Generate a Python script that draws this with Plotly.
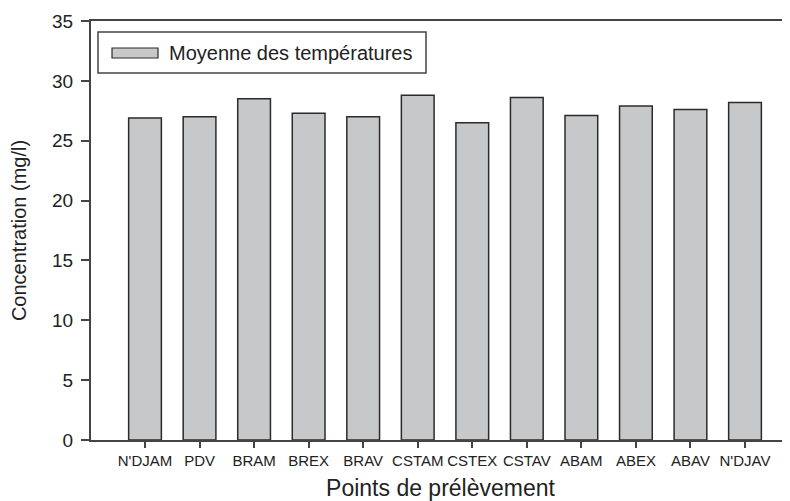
import plotly.graph_objects as go

categories = ["N'DJAM", "PDV", "BRAM", "BREX", "BRAV", "CSTAM", "CSTEX",
              "CSTAV", "ABAM", "ABEX", "ABAV", "N'DJAV"]
temperatures = [26.9, 27.0, 28.5, 27.3, 27.0, 28.8, 26.5, 28.6, 27.1, 27.9, 27.6, 28.2]
y_ticks = [0, 5, 10, 15, 20, 25, 30, 35]
legend_label = "Moyenne des températures"

FONT = "Liberation Sans, Arial, Helvetica, sans-serif"
AXIS_COLOR = "#444444"
BAR_FILL = "#c7c8ca"
BAR_LINE = "#2b2b2b"

# page body has an 8px default margin; figure is sized so it ends at the window edge
OFF = 8
W, H = 790 - OFF, 501 - OFF
L, R, T, B = 91 - OFF, 0, 21 - OFF, 61
pw, ph = W - L - R, H - T - B


def px(x):
    return (x - OFF - L) / pw


def py(y):
    return (H - B - (y - OFF)) / ph


fig = go.Figure()
fig.add_trace(go.Bar(
    x=categories, y=temperatures, name=legend_label,
    marker=dict(color=BAR_FILL, line=dict(color=BAR_LINE, width=1.5)),
    width=0.6, showlegend=False,
))

# manual legend (box, swatch, text)
fig.add_shape(type="rect", xref="paper", yref="paper",
              x0=px(98), x1=px(426), y0=py(73), y1=py(32),
              line=dict(color=AXIS_COLOR, width=1.5), fillcolor="white", layer="above")
fig.add_shape(type="rect", xref="paper", yref="paper",
              x0=px(112), x1=px(158), y0=py(58), y1=py(48),
              line=dict(color=BAR_LINE, width=1.2), fillcolor=BAR_FILL, layer="above")
fig.add_annotation(xref="paper", yref="paper", x=px(167), y=py(53),
                   text=legend_label, showarrow=False, xanchor="left", yanchor="middle",
                   font=dict(family=FONT, size=20, color="#222222"))

fig.update_layout(
    width=W, height=H, autosize=False,
    margin=dict(l=L, r=R, t=T, b=B, pad=0),
    plot_bgcolor="white", paper_bgcolor="white",
    font=dict(family=FONT, color="#222222"),
    bargap=0.4,
)
fig.update_xaxes(
    type="category", range=[-0.99, 11.825], automargin=False,
    showline=True, linecolor=AXIS_COLOR, linewidth=2, mirror=True,
    ticks="outside", ticklen=6, tickwidth=1.5, tickcolor=AXIS_COLOR,
    tickangle=0, tickfont=dict(family=FONT, size=15, color="#222222"),
    ticklabelstandoff=0,
    showgrid=False, zeroline=False,
    title=dict(text="Points de prélèvement", font=dict(family=FONT, size=23, color="#222222"),
               standoff=13),
)
fig.update_yaxes(
    range=[0, 35], tickvals=y_ticks, automargin=False,
    showline=True, linecolor=AXIS_COLOR, linewidth=2, mirror=False,
    ticks="outside", ticklen=8, tickwidth=1.5, tickcolor=AXIS_COLOR,
    tickfont=dict(family=FONT, size=19, color="#222222"),
    ticklabelstandoff=4,
    showgrid=False, zeroline=False,
    title=dict(text="Concentration (mg/l)", font=dict(family=FONT, size=20, color="#222222"),
               standoff=20),
)

fig.write_html("out.html")
